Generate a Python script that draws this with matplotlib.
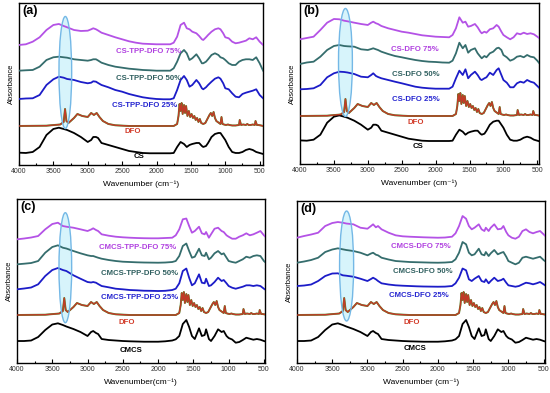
import matplotlib
matplotlib.use("Agg")
import matplotlib.pyplot as plt
from matplotlib.patches import Ellipse
from matplotlib.ticker import MultipleLocator

plt.rcParams['font.family'] = ['Liberation Sans', 'DejaVu Sans']

# common wavenumber grid (cm-1) for the CS / CMCS based spectra
wn = [4000, 3900, 3800, 3700, 3600, 3500, 3420, 3350, 3300, 3200,
      3100, 3000, 2950, 2920, 2880, 2850, 2800, 2700, 2600, 2500,
      2400, 2300, 2200, 2100, 2000, 1900, 1800, 1750, 1700, 1650,
      1600, 1560, 1520, 1480, 1420, 1380, 1340, 1320, 1280, 1250,
      1200, 1150, 1100, 1070, 1030, 1000, 950, 900, 850, 800,
      750, 700, 650, 600, 550, 500, 450]

# pure components (relative to their own baseline)
cs = [0.3, 0, 1, 6, 18, 24, 25.3, 24, 23, 20,
      16, 11, 13, 16, 16, 15, 10, 8, 6, 4,
      2, 1, 0, -0.3, -0.3, -0.3, -0.3, 0, 6, 11,
      9, 6, 8, 9, 10, 10, 7, 6, 7, 10,
      16, 19, 20, 20, 16, 13, 6, 1, 0, 0,
      1, 3, 4, 3, 1, 0, -1]

cmcs = [0, 0, 0.5, 4, 11, 16.5, 17.7, 16, 14.5, 12,
        9, 5, 9, 10, 8, 7, 2, 1, 0.5, 0,
        -0.3, -0.5, -0.7, -0.7, -0.7, -0.3, 0.5, 1.7, 5, 17,
        21, 14, 5, 2, 12.7, 5, 6, 11.7, 2, 0,
        5, 11.7, 9, 10, 5, 3, 1.5, -1.7, -1, 1,
        3.3, 2.3, 1.3, 2, 1.3, 0, -1]

dfo_wn = [4000, 3600, 3400, 3350, 3330, 3310, 3280, 3200, 3150, 3080,
          3000, 2950, 2910, 2870, 2830, 2780, 2700, 2600, 2400, 2000,
          1750, 1700, 1680, 1665, 1650, 1635, 1620, 1600, 1585, 1570,
          1550, 1530, 1510, 1490, 1470, 1450, 1430, 1410, 1390, 1370,
          1350, 1320, 1290, 1260, 1230, 1210, 1190, 1170, 1150, 1130,
          1110, 1090, 1070, 1055, 1040, 1020, 990, 960, 940, 900,
          850, 800, 790, 770, 740, 700, 680, 660, 630, 600,
          570, 560, 540, 520, 480, 450]
dfo = [0, 0.3, 1.5, 4, 17, 5, 3, 8, 12, 10,
       9, 13, 11, 13, 9, 5, 2, 0.7, 0, 0,
       0, 2, 10, 22, 15, 23, 12, 21, 13, 20,
       10, 15, 9, 12, 8, 10, 6, 8, 4, 7,
       3, 2, 3, 7, 11, 13, 10, 14, 8, 5,
       4, 3, 2, 9, 2, 1.5, 1, 1.5, 1, 0.5,
       0.5, 1, 6, 1, 1.5, 1, 2, 1, 1, 1.5,
       1, 5, 1, 1, 0.5, 0]

# blends, panel (a)
cs_tpp_dfo_25 = [66, 66.5, 66.7, 70, 80, 85.7, 88.3, 87.3, 86, 85,
                 83, 81.7, 82.3, 83.7, 83.3, 82, 80, 77.7, 75, 73.3,
                 71, 69.3, 67.7, 66.7, 66, 65.7, 65.7, 66.7, 75, 85,
                 89, 85, 78.3, 80, 85, 81.7, 76.7, 75.7, 77.7, 80,
                 83.3, 86.3, 87.7, 86.3, 81.7, 76.7, 75.7, 71.7, 68.3, 67.7,
                 71, 72.3, 73.3, 74.3, 75.7, 70, 66.7]
cs_tpp_dfo_50 = [94.3, 94.7, 95, 98.3, 105, 107.7, 108.3, 107.7, 107.3, 105.7,
                 105, 104.3, 105, 105.7, 105.7, 104.5, 102.3, 100, 98.3, 97.3,
                 96.3, 95.7, 95, 94.7, 94.3, 94.3, 94.3, 96.7, 103.3, 111.7,
                 115, 111.7, 105, 106.7, 110.7, 106.7, 101.7, 101.7, 103.3, 105.7,
                 110, 111.7, 110, 107.7, 106.7, 105, 101.7, 100, 100, 103.3,
                 105, 105.7, 105.7, 105, 107.7, 101.7, 94.3]
cs_tpp_dfo_75 = [120, 120.7, 123.3, 127.7, 135, 140, 141, 139, 137.7, 135,
                 134, 134.3, 135.7, 136.7, 135.7, 134.5, 132.3, 130, 127.7, 125.7,
                 123.7, 122.3, 121.3, 121, 120.7, 120.7, 120.7, 122.3, 128.3, 140,
                 142.3, 136.7, 135.7, 133.3, 131.7, 129, 125.7, 125, 127.7, 130,
                 133.3, 135.7, 136.7, 135.7, 131.7, 127.7, 126.7, 123.3, 121.7, 122.3,
                 123.3, 124.3, 126.7, 125.7, 127.7, 123.3, 120]

# blends, panel (b)
cs_dfo_25 = [74.7, 75, 75.7, 79, 86.7, 90.7, 92.3, 92, 91.5, 90,
             87.3, 86.7, 89, 90.7, 88, 87, 85.7, 84, 82.3, 80.7,
             79, 77.3, 76.3, 75.7, 75.3, 75.3, 75.3, 77.3, 85.7, 93.3,
             89, 94.7, 85.7, 89, 92.3, 89, 84.7, 84, 85.7, 86.7,
             91.3, 89, 94, 95.7, 89, 84, 81.3, 76.7, 76.7, 80.7,
             82.3, 81.3, 84, 82.3, 81.3, 78, 74.7]
cs_dfo_50 = [100, 101.5, 102.3, 107.3, 114, 118, 119, 118, 117.7, 117.3,
             114.7, 114, 115, 115.7, 114.7, 114, 112.3, 110, 108, 106.7,
             105.3, 104, 103, 102.3, 102, 101.5, 101.3, 103.3, 110.7, 121.3,
             115.7, 119, 111.3, 114, 115.7, 110.7, 107.3, 105.7, 108, 106.7,
             110.7, 112.3, 115.7, 116.3, 114, 109, 106.7, 103.3, 104.7, 107.3,
             108, 106.7, 109, 107.3, 106.7, 103.3, 99]
cs_dfo_75 = [124.7, 126, 127.3, 134, 141.3, 145, 144.7, 143.3, 142.7, 141.3,
             140, 139, 141.3, 142.3, 140.7, 140, 138, 135.7, 134, 132.3,
             131.3, 130, 128.7, 128, 127.3, 127, 126.7, 129, 135.7, 146.7,
             141.3, 142.3, 137.3, 138, 140, 136.7, 132.3, 130.7, 132.3, 131.3,
             134.7, 135.7, 139, 137.3, 132.3, 129, 126.7, 124.7, 126.7, 130.7,
             129.7, 131.3, 130, 130.7, 129.7, 127.3, 124.7]

# blends, panel (c)
cmcs_tpp_dfo_25 = [73.7, 74.5, 75.5, 78.7, 87, 93, 95, 93, 92, 87.7,
                   84.3, 81, 80.5, 81, 80.3, 79, 77, 75.7, 74.3, 73.7,
                   73, 72.7, 72.3, 72.2, 72, 72.2, 73, 74.3, 79.7, 92,
                   94.5, 85.3, 77.7, 79.7, 88.7, 80.3, 79.7, 84.3, 77, 77.7,
                   81, 85.3, 82, 83, 79.7, 77, 75.3, 74.3, 75.3, 76.3,
                   77.7, 77.7, 77, 77.7, 77, 74.3, 72]
cmcs_tpp_dfo_50 = [98.7, 99.3, 100, 102, 110.3, 116, 117.7, 115.3, 114.5, 112,
                   109.7, 107.7, 107, 107, 106, 105.3, 104.3, 103, 102, 101.3,
                   101, 100.7, 100.5, 100.4, 100.3, 100.5, 101, 102, 107, 117,
                   119.5, 112, 105.3, 106.3, 114.3, 107.7, 107, 110.3, 103.7, 105.3,
                   109.7, 112, 108.7, 109.7, 105.3, 102, 101, 100.3, 102, 103.7,
                   106.3, 105.3, 107, 107.7, 107, 102, 98.7]
cmcs_tpp_dfo_75 = [123.7, 124.5, 125.5, 127, 133.7, 139, 140.3, 137, 136.3, 135.3,
                   133.7, 132, 133.5, 134.7, 133, 132, 128.7, 127.3, 126.3, 125.7,
                   125.3, 125, 124.8, 124.7, 124.7, 125, 125.3, 127.7, 133.7, 143.7,
                   144.5, 137, 130.3, 132, 136.3, 129.7, 128.7, 131, 125.3, 128.7,
                   134.3, 135.3, 132, 131, 127.7, 126.3, 124.3, 124.3, 126.3, 127.7,
                   129.7, 127.7, 128.7, 130.3, 132, 127.7, 124.3]

# blends, panel (d)
cmcs_dfo_25 = [77, 77.5, 78.5, 82, 87, 89.5, 89.7, 87.7, 87.3, 86.3,
               84.3, 82, 84, 85.3, 83.7, 82, 79.7, 78.5, 77.7, 77.3,
               77, 76.7, 76.5, 76.4, 76.3, 76.4, 77, 79.7, 85.3, 94.5,
               92.7, 83.7, 82, 84.3, 87, 82, 81, 83.7, 79.7, 82,
               85.3, 82, 83, 84.3, 80.3, 77.7, 77, 76.3, 77, 78.7,
               80.3, 79.7, 78.7, 79.7, 81, 78.7, 76.3]
cmcs_dfo_50 = [100.3, 101.5, 103, 105.3, 111, 113.5, 114.7, 113.7, 113, 112,
               110.3, 107.7, 109.5, 110.3, 108.3, 107.7, 105.3, 103.5, 102, 101.5,
               101, 100.8, 100.6, 100.4, 100.3, 100.5, 101, 103.7, 110.3, 121,
               118.7, 110.3, 107.7, 108.7, 114.3, 108.7, 107.7, 111, 107, 109.7,
               113, 108.7, 110.3, 111, 106.3, 102, 100.3, 98.7, 100.3, 105.3,
               106.3, 105.3, 104.3, 105.3, 106.3, 103, 100.3]
cmcs_dfo_75 = [125.3, 127, 128.5, 130.3, 137, 140, 141, 140.3, 139.5, 138.7,
               135.3, 134.3, 137, 138.7, 135.7, 137, 133.7, 130.3, 127.7, 126.7,
               126.3, 126, 125.7, 125.5, 125.3, 125.5, 126.3, 129.7, 137, 147,
               144.3, 137, 133.7, 135.3, 138.7, 133.7, 132, 135.3, 132, 135.3,
               138.7, 133.7, 134.3, 137, 131, 127.7, 125.3, 124.3, 126.3, 132,
               133.7, 131, 129.7, 131, 132, 128.7, 125.3]

violet = '#b452e6'
teal = '#356d6d'
blue = '#1c1cc8'
red = '#c23a28'
green = '#4d8a2a'

panels = [
    dict(tag='(a)', rect=[0.0345, 0.5802, 0.4436, 0.4122], xmax=452, ytop=162,
         base=cs, base_name='CS', base_off=12, dfo_off=39,
         blends=[(cs_tpp_dfo_25, 'CS-TPP-DFO 25%'), (cs_tpp_dfo_50, 'CS-TPP-DFO 50%'),
                 (cs_tpp_dfo_75, 'CS-TPP-DFO 75%')],
         labels=[(2256, 8), (2340, 33), (2175, 59), (2110, 86), (2110, 113)],
         ell=(3326, 92.5, 185, 112)),
    dict(tag='(b)', rect=[0.5455, 0.5827, 0.4345, 0.4097], xmax=475, ytop=161,
         base=cs, base_name='CS', base_off=23.3, dfo_off=48,
         blends=[(cs_dfo_25, 'CS-DFO 25%'), (cs_dfo_50, 'CS-DFO 50%'),
                 (cs_dfo_75, 'CS-DFO 75%')],
         labels=[(2262, 17.3), (2299, 41.3), (2287, 64), (2287, 89), (2299, 114.7)],
         ell=(3330, 101.5, 205, 108)),
    dict(tag='(c)', rect=[0.0309, 0.0763, 0.4509, 0.4173], xmax=485, ytop=164,
         base=cmcs, base_name='CMCS', base_off=22, dfo_off=48,
         blends=[(cmcs_tpp_dfo_25, 'CMCS-TPP-DFO 25%'), (cmcs_tpp_dfo_50, 'CMCS-TPP-DFO 50%'),
                 (cmcs_tpp_dfo_75, 'CMCS-TPP-DFO 75%')],
         labels=[(2382, 13), (2446, 40.3), (2257, 65.3), (2257, 89.7), (2286, 115.3)],
         ell=(3315, 95.3, 180, 110)),
    dict(tag='(d)', rect=[0.54, 0.0763, 0.4509, 0.4122], xmax=480, ytop=162,
         base=cmcs, base_name='CMCS', base_off=22, dfo_off=48,
         blends=[(cmcs_dfo_25, 'CMCS-DFO 25%'), (cmcs_dfo_50, 'CMCS-DFO 50%'),
                 (cmcs_dfo_75, 'CMCS-DFO 75%')],
         labels=[(2322, 14.3), (2378, 40.3), (2265, 67.7), (2208, 92), (2244, 117)],
         ell=(3296, 97, 200, 110)),
]

fig = plt.figure(figsize=(5.5, 3.93), dpi=100)

for p in panels:
    ax = fig.add_axes(p['rect'])
    cx, cy, w, h = p['ell']
    ax.add_patch(Ellipse((cx, cy), w, h, facecolor='#c6f0fa', edgecolor='none',
                         alpha=0.7, zorder=1))
    ax.add_patch(Ellipse((cx, cy), w, h, facecolor='none', edgecolor='#74b8e6',
                         lw=1.0, zorder=4))

    ax.plot(wn, [v + p['base_off'] for v in p['base']], color='black', lw=1.3, zorder=3)
    dy = [v + p['dfo_off'] for v in dfo]
    ax.plot(dfo_wn, dy, color=green, lw=1.4, zorder=2)
    ax.plot(dfo_wn, dy, color=red, lw=1.0, zorder=3)
    for (vals, name), col in zip(p['blends'], [blue, teal, violet]):
        ax.plot(wn, vals, color=col, lw=1.3, zorder=3)

    names = [p['base_name'], 'DFO'] + [b[1] for b in p['blends']]
    cols = ['black', '#d23a28', '#2424d0', '#2f5f5f', '#b040e0']
    for (x, y), name, col in zip(p['labels'], names, cols):
        ax.text(x, y, name, color=col, fontsize=5.6, fontweight='bold',
                ha='center', va='center', zorder=5)

    ax.text(0.012, 0.985, p['tag'], transform=ax.transAxes, fontsize=9,
            fontweight='bold', ha='left', va='top')

    ax.set_xlim(4000, p['xmax'])
    ax.set_ylim(0, p['ytop'])
    ax.set_xticks(range(4000, 499, -500))
    ax.xaxis.set_minor_locator(MultipleLocator(250))
    ax.tick_params(axis='x', which='both', direction='in', top=False,
                   labelsize=5, labelcolor='#333333', pad=2.5, width=0.8)
    ax.tick_params(axis='x', which='major', length=3)
    ax.tick_params(axis='x', which='minor', length=1.8)
    ax.set_yticks([])
    for s in ax.spines.values():
        s.set_linewidth(1.0)
    xl = 'Wavenumber(cm⁻¹)' if p['tag'] == '(c)' else 'Wavenumber (cm⁻¹)'
    ax.set_xlabel(xl, fontsize=6, labelpad=3.5)
    ax.set_ylabel('Absorbance', fontsize=5.4, labelpad=3)

fig.savefig('out.png', dpi=100)
